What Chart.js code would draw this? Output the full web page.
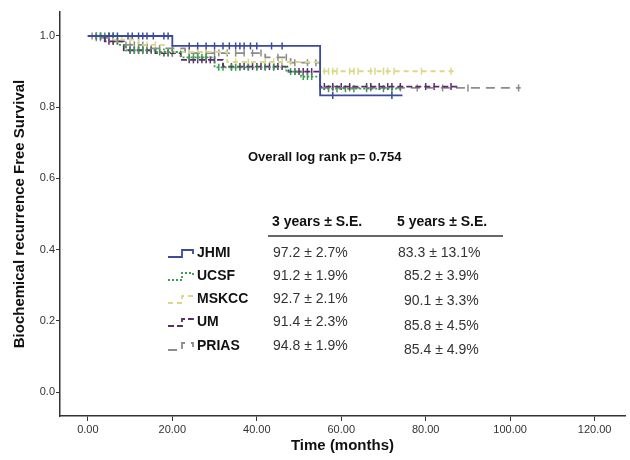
<!DOCTYPE html>
<html>
<head>
<meta charset="utf-8">
<script src="https://cdn.jsdelivr.net/npm/chart.js@4.4.1/dist/chart.umd.min.js"></script>
<style>
  html, body { margin: 0; padding: 0; background: #fff; }
  #wrap { width: 630px; height: 460px; }
</style>
</head>
<body>
<div id="wrap"><canvas id="kmChart" width="630" height="460"></canvas></div>
<script>
// Kaplan-Meier steps: event times (months) and survival after each step
const groups = ["JHMI", "UCSF", "MSKCC", "UM", "PRIAS"];

const jhmiTimes = [0, 20, 55, 74.5];
const jhmiSurv = [1.0, 0.972, 0.833, 0.833];
const jhmiCensor = [5, 6, 7, 9.5, 10.5, 12, 13, 14, 15.5, 18, 19, 24, 26, 28, 30, 32, 33.5, 35, 36, 37, 38.5, 40, 43.5, 46, 58, 72];

const ucsfTimes = [0, 7, 9, 16, 22, 30, 47, 50.5, 55, 74.5];
const ucsfSurv = [1.0, 0.975, 0.96, 0.955, 0.94, 0.912, 0.90, 0.886, 0.852, 0.852];
const ucsfCensor = [2, 3, 4, 5, 6, 10, 11, 12, 13, 14, 17, 18, 19, 20, 24, 25, 26, 27, 28, 31, 32, 34, 35, 36, 38, 40, 42, 44, 48, 49, 51, 52, 53, 57, 59, 61, 63, 66, 70, 72];

const mskccTimes = [0, 6, 12, 18, 33, 55, 87];
const mskccSurv = [1.0, 0.99, 0.975, 0.955, 0.927, 0.901, 0.901];
const mskccCensor = [8, 10, 14, 16, 20, 22, 24, 26, 28, 35, 38, 42, 44, 46, 48, 56, 57, 58, 59, 62, 63, 64, 67, 68, 70, 71, 72.5, 79, 86];

const umTimes = [0, 4, 8.5, 16, 22, 32, 47.5, 55, 88];
const umSurv = [1.0, 0.985, 0.96, 0.952, 0.933, 0.914, 0.90, 0.858, 0.858];
const umCensor = [2, 3, 5, 6, 10, 11, 12, 13, 14, 15, 18, 19, 20, 24, 25, 26, 27, 28, 29, 30, 34, 36, 37, 38, 39, 40, 41, 42, 43, 44, 45, 46, 49, 50, 51, 52, 53, 56, 58, 60, 62, 66, 67, 69, 71, 72, 74, 80, 82, 86];

const priasTimes = [0, 2, 5, 8, 14, 23, 42, 48, 55, 102.5];
const priasSurv = [1.0, 0.995, 0.985, 0.975, 0.965, 0.952, 0.94, 0.925, 0.854, 0.854];
const priasCensor = [1, 2, 3, 4, 6, 7, 9, 10, 11, 12, 13, 15, 17, 20, 24, 26, 28, 30, 31, 33, 35, 37, 39, 41, 45, 47, 49, 52, 54, 58, 62, 67, 74, 78, 84, 90, 102];

const xTicks = [0, 20, 40, 60, 80, 100, 120];
const yTicks = [0, 0.2, 0.4, 0.6, 0.8, 1.0];

const threeYear = ["97.2 ± 2.7%", "91.2 ± 1.9%", "92.7 ± 2.1%", "91.4 ± 2.3%", "94.8 ± 1.9%"];
const fiveYear = ["83.3 ± 13.1%", "85.2 ± 3.9%", "90.1 ± 3.3%", "85.8 ± 4.5%", "85.4 ± 4.9%"];

// styles per group
const colors = ["#3a4a9e", "#3c9a52", "#dcd88a", "#5e2a6e", "#8c8c8c"];
const dashes = [[], [2, 2], [5, 4], [6, 3], [9, 6]];

const series = [
  [jhmiTimes, jhmiSurv, jhmiCensor],
  [ucsfTimes, ucsfSurv, ucsfCensor],
  [mskccTimes, mskccSurv, mskccCensor],
  [umTimes, umSurv, umCensor],
  [priasTimes, priasSurv, priasCensor]
];

function survAt(times, surv, t) {
  let s = surv[0];
  for (let i = 0; i < times.length; i++) if (times[i] <= t) s = surv[i];
  return s;
}

const datasets = [];
series.forEach((s, i) => {
  const [times, surv, cens] = s;
  datasets.push({
    label: groups[i],
    data: times.map((t, k) => ({ x: t, y: surv[k] })),
    borderColor: colors[i],
    borderWidth: 1.8,
    borderDash: dashes[i],
    stepped: true,
    pointRadius: 0,
    fill: false
  });
});
series.forEach((s, i) => {
  const [times, surv, cens] = s;
  datasets.push({
    label: groups[i] + " censored",
    data: cens.map(t => ({ x: t, y: survAt(times, surv, t) })),
    showLine: false,
    pointStyle: "line",
    rotation: 90,
    pointRadius: 3.5,
    pointBorderWidth: 1.5,
    pointBorderColor: colors[i],
    borderColor: colors[i],
    pointHoverRadius: 0
  });
});

// legend / table overlay
const tablePlugin = {
  id: "table",
  afterDraw(chart) {
    const ctx = chart.ctx;
    ctx.save();
    ctx.textBaseline = "middle";
    ctx.textAlign = "left";
    ctx.fillStyle = "#111";
    ctx.font = "bold 13px 'Liberation Sans', Arial, sans-serif";
    ctx.fillText("Overall log rank p= 0.754", 248, 157);

    ctx.font = "bold 14px 'Liberation Sans', Arial, sans-serif";
    ctx.fillText("3 years ± S.E.", 272, 222);
    ctx.fillText("5 years ± S.E.", 397, 222);

    ctx.strokeStyle = "#333";
    ctx.lineWidth = 1.5;
    ctx.beginPath();
    ctx.moveTo(268, 236);
    ctx.lineTo(503, 236);
    ctx.stroke();

    const rowY = [253, 276, 299, 322, 346];
    const col2Y = [253, 276, 301, 326, 350];
    groups.forEach((g, i) => {
      const y = rowY[i];
      // symbol
      ctx.strokeStyle = colors[i];
      ctx.lineWidth = 1.8;
      ctx.setLineDash(dashes[i]);
      ctx.beginPath();
      ctx.moveTo(168, y + 4);
      ctx.lineTo(182, y + 4);
      ctx.lineTo(182, y - 3);
      ctx.lineTo(193, y - 3);
      ctx.lineTo(193, y + 1);
      ctx.stroke();
      ctx.setLineDash([]);

      ctx.fillStyle = "#111";
      ctx.font = "bold 14px 'Liberation Sans', Arial, sans-serif";
      ctx.fillText(g, 197, y);

      ctx.fillStyle = "#333";
      ctx.font = "14px 'Liberation Sans', Arial, sans-serif";
      ctx.fillText(threeYear[i], 273, y);
      ctx.fillText(fiveYear[i], i === 0 ? 398 : 404, col2Y[i]);
    });
    ctx.restore();
  }
};

const ctx = document.getElementById("kmChart").getContext("2d");
new Chart(ctx, {
  type: "line",
  data: { datasets },
  options: {
    responsive: false,
    animation: false,
    layout: { padding: { top: 12, right: 0, left: 0, bottom: 0 } },
    plugins: { legend: { display: false }, tooltip: { enabled: false } },
    scales: {
      x: {
        type: "linear",
        min: -6.6,
        max: 127.2,
        afterBuildTicks: s => { s.ticks = xTicks.map(v => ({ value: v })); },
        afterFit: s => { s.height = 44; },
        ticks: {
          callback: v => v.toFixed(2),
          color: "#333",
          font: { size: 11, family: "'Liberation Sans', Arial" },
          padding: 2,
          maxRotation: 0
        },
        grid: { drawOnChartArea: false, drawTicks: true, tickLength: 5, color: "#333", lineWidth: 1 },
        border: { color: "#333", width: 1.5 },
        title: {
          display: true,
          text: "Time (months)",
          color: "#111",
          font: { size: 15, weight: "bold", family: "'Liberation Sans', Arial" },
          padding: { top: 0, bottom: 5 }
        }
      },
      y: {
        min: -0.0674,
        max: 1.0674,
        afterBuildTicks: s => { s.ticks = yTicks.map(v => ({ value: v })); },
        afterFit: s => { s.width = 60; },
        ticks: {
          callback: v => v.toFixed(1),
          color: "#333",
          font: { size: 11, family: "'Liberation Sans', Arial" },
          padding: 1
        },
        grid: { drawOnChartArea: false, drawTicks: true, tickLength: 4, color: "#333", lineWidth: 1 },
        border: { color: "#333", width: 1.5 },
        title: {
          display: true,
          text: "Biochemical recurrence Free Survival",
          color: "#111",
          font: { size: 15, weight: "bold", family: "'Liberation Sans', Arial" },
          padding: { top: 11, bottom: 0 }
        }
      }
    }
  },
  plugins: [tablePlugin]
});
</script>
</body>
</html>
